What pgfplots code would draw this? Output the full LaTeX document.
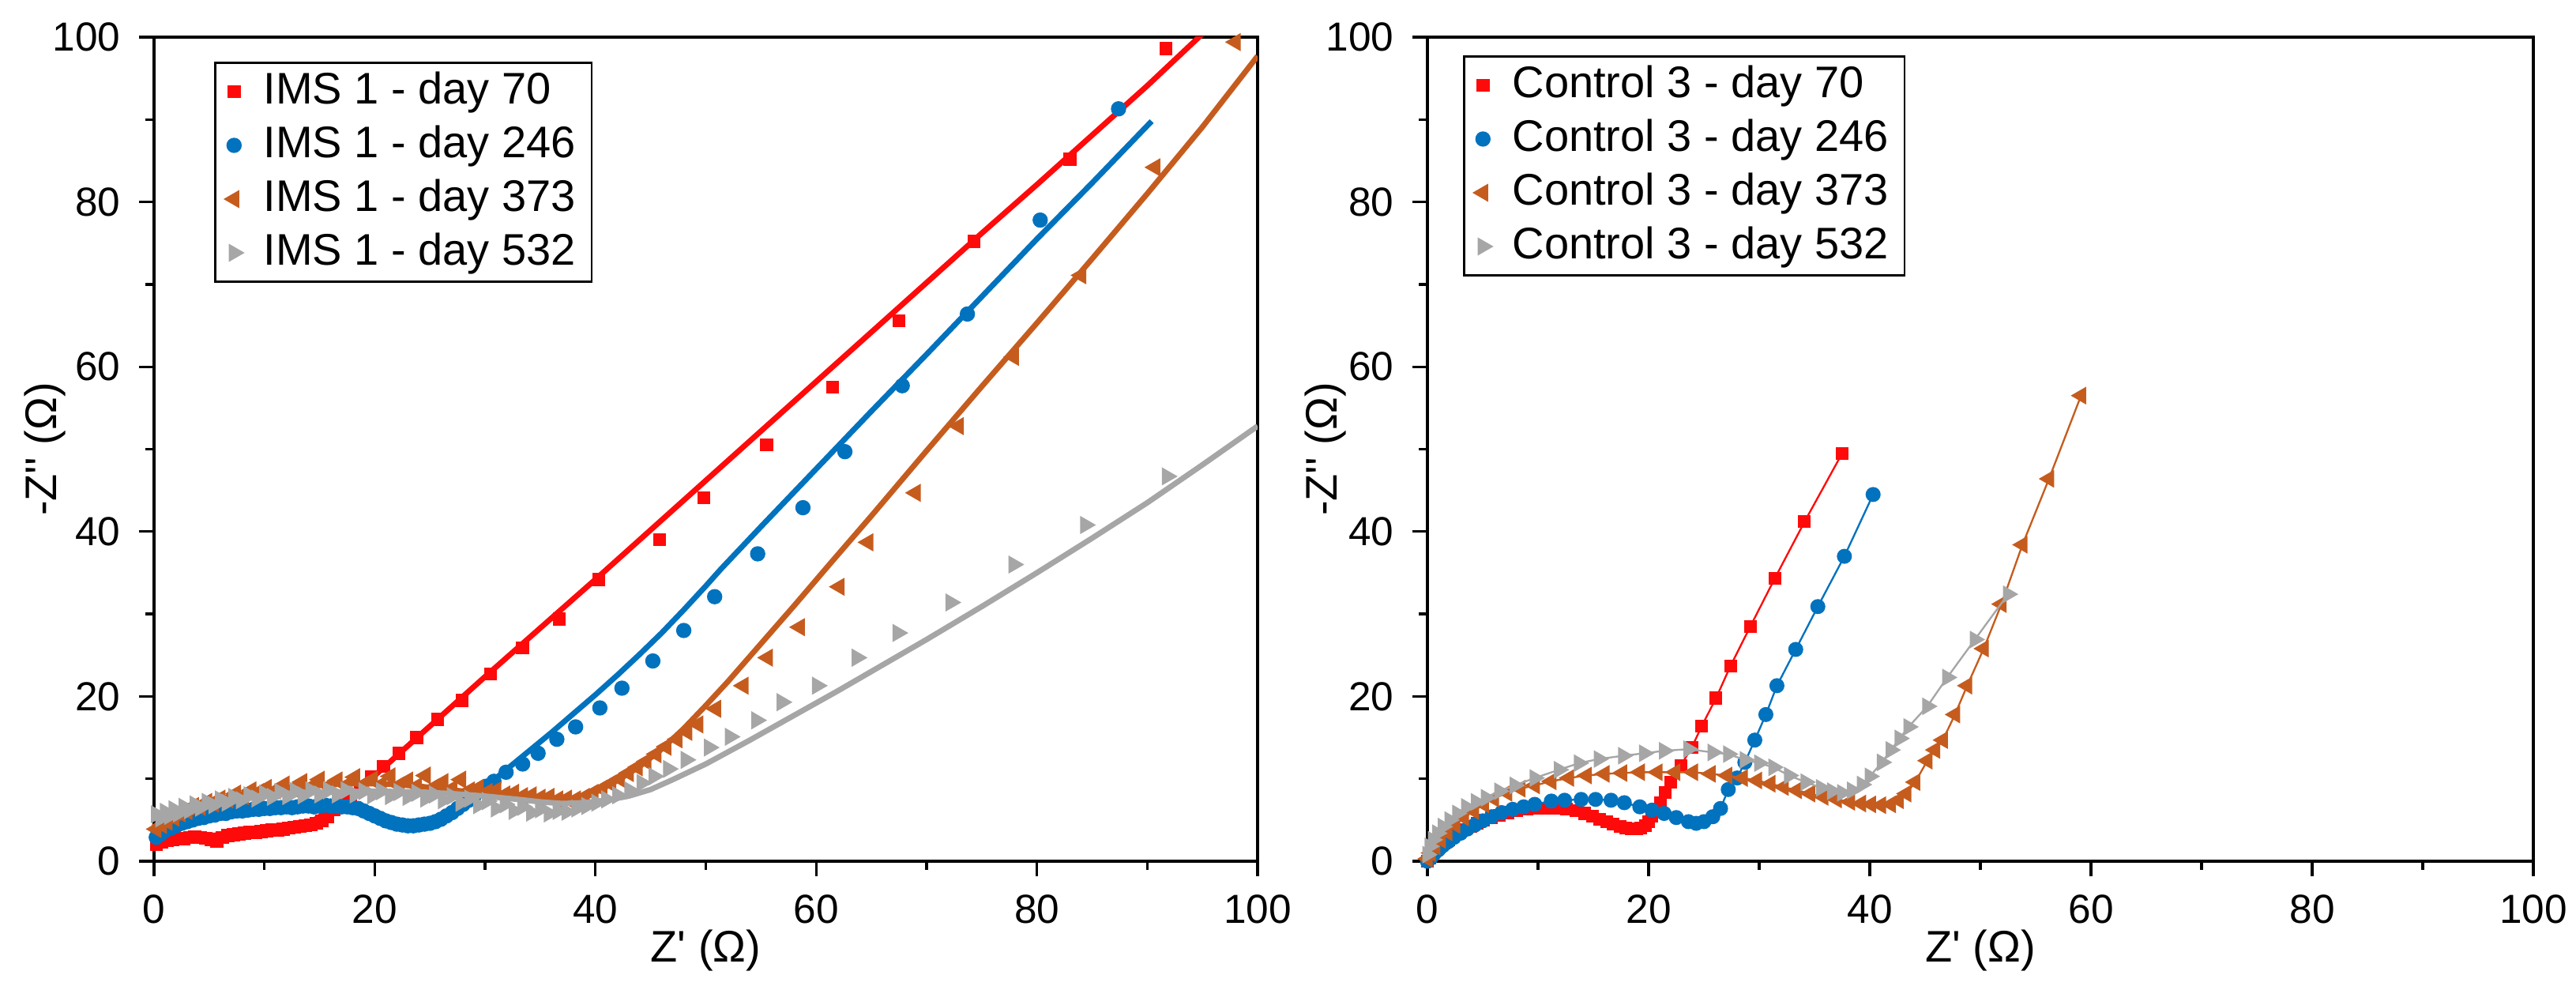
\documentclass[border=0pt]{standalone}
\usepackage{fontspec}
\setmainfont{Liberation Sans}[Ligatures=TeXOff]
\usepackage{pgfplots}
\pgfplotsset{compat=1.18}
\usepackage{pgfplotstable}
\definecolor{cR}{RGB}{255,10,10}
\definecolor{cB}{RGB}{0,114,190}
\definecolor{cO}{RGB}{197,92,30}
\definecolor{cG}{RGB}{166,166,166}

\pgfplotstableread{
x y
0.2 2.0
0.7 2.3
1.2 2.5
1.7 2.6
2.2 2.8
2.7 2.7
3.2 2.9
3.7 3.0
4.2 2.9
4.7 2.8
5.2 2.6
5.7 2.4
6.2 2.9
6.7 3.1
7.2 3.2
7.7 3.3
8.2 3.4
8.7 3.5
9.2 3.5
9.7 3.6
10.2 3.7
10.7 3.8
11.2 3.8
11.7 3.9
12.2 4.0
12.7 4.1
13.2 4.2
13.7 4.3
14.2 4.4
14.7 4.6
15.2 4.9
15.7 5.4
16.3 6.3
17.0 7.0
17.8 7.6
18.7 8.9
19.7 10.2
20.8 11.5
22.2 13.1
23.8 15.0
25.7 17.2
27.9 19.5
30.5 22.7
33.4 25.9
36.7 29.4
40.3 34.2
45.8 39.0
49.8 44.1
55.5 50.5
61.5 57.5
67.5 65.6
74.3 75.2
83.0 85.2
91.7 98.6
}\LR
\pgfplotstableread{
x y
0 2.6
2 2.8
4 3.0
6 3.2
8 3.5
10 3.8
12 4.1
13.5 4.5
14.5 5.0
15.5 5.8
16.5 6.7
17.5 7.6
18.5 8.7
20 10.4
25 16.4
30 22.4
35 28.3
40 34.2
45 40.2
50 46.2
55 52.2
60 58.2
65 64.2
70 70.2
75 76.2
80 82.1
85 88.1
90 94.1
95 100.4
}\LRf
\pgfplotstableread{
x y
0.2 2.9
0.6 3.3
1.0 3.7
1.5 4.0
2.0 4.3
2.5 4.6
3.0 4.8
3.5 5.0
4.0 5.2
4.5 5.3
5.0 5.5
5.5 5.6
6.0 5.8
6.5 5.8
7.0 6.0
7.5 6.1
8.0 6.1
8.5 6.2
9.0 6.3
9.5 6.3
10.0 6.4
10.5 6.4
11.0 6.5
11.5 6.5
12.0 6.6
12.5 6.5
13.0 6.6
13.5 6.7
14.0 6.7
14.5 6.6
15.0 6.7
15.5 6.8
16.0 6.7
16.5 6.7
17.0 6.6
17.5 6.6
18.0 6.5
18.5 6.4
19.0 6.1
19.5 5.8
20.0 5.5
20.5 5.2
21.0 4.9
21.5 4.7
22.0 4.5
22.5 4.4
23.0 4.3
23.5 4.3
24.0 4.4
24.5 4.5
25.0 4.6
25.5 4.8
26.0 5.1
26.5 5.5
27.0 5.9
27.5 6.4
28.0 6.9
28.5 7.4
29.0 7.9
29.5 8.5
30.1 9.1
30.8 9.7
31.9 10.8
33.4 11.8
34.8 13.1
36.5 14.8
38.2 16.3
40.4 18.6
42.4 21.0
45.2 24.3
48.0 28.0
50.8 32.1
54.7 37.3
58.8 42.9
62.6 49.7
67.8 57.7
73.7 66.4
80.3 77.8
87.4 91.3
}\LB
\pgfplotstableread{
x y
0 2.6
1 3.4
2 4.0
3.5 4.7
5 5.2
7.5 5.8
10 6.2
12.5 6.5
15 6.6
17 6.5
18.5 6.2
20 5.6
21.5 4.9
23 4.5
24 4.5
25 4.7
26 5.2
27 5.9
28 6.8
29 7.8
30 9.0
32 11.2
34 13.4
36 15.6
38 17.9
40 20.2
42 22.6
44 25.1
46 27.7
48 30.5
50 33.4
51.4 35.5
55 40.6
60 47.6
65 54.6
70 61.5
75 68.5
80 75.5
85 82.3
90.4 89.8
}\LBf
\pgfplotstableread{
x y
0.2 3.9
0.7 4.4
1.2 4.8
1.8 5.3
2.4 5.8
3.0 6.1
3.6 6.7
4.2 6.6
4.8 7.2
5.4 7.0
6.0 7.6
6.7 7.5
7.4 8.2
8.1 7.9
8.8 8.6
9.5 8.4
10.2 8.9
11.0 8.6
11.8 9.3
12.6 8.8
13.4 9.6
14.2 9.0
15.0 9.9
15.8 9.1
16.6 9.8
17.4 9.2
18.2 10.2
19.0 9.3
19.8 9.9
20.6 9.3
21.4 10.3
22.2 9.2
23.0 9.8
23.8 9.1
24.6 10.4
25.4 9.0
26.2 9.6
27.0 8.8
27.8 9.9
28.6 8.6
29.4 8.9
30.2 8.4
31.0 8.6
31.8 8.1
32.6 8.3
33.4 7.9
34.2 8.0
35.0 7.7
35.8 7.8
36.6 7.5
37.4 7.6
38.2 7.5
39.0 7.8
39.8 8.3
40.6 8.8
41.4 9.4
42.2 10.0
43.0 10.7
43.8 11.4
44.6 12.1
45.5 13.0
46.4 13.9
47.4 14.8
48.3 15.7
49.3 16.6
50.9 18.5
53.4 21.3
55.6 24.7
58.5 28.4
62.1 33.3
64.7 38.7
69.0 44.7
72.9 52.8
77.9 61.2
84.0 71.1
90.7 84.2
98.0 99.4
}\LO
\pgfplotstableread{
x y
0 3.9
2 5.1
4 6.2
6 7.1
8 7.8
10 8.4
12 8.8
14 9.1
16 9.3
18 9.4
20 9.4
22 9.3
24 9.1
26 8.8
28 8.5
30 8.2
32 7.9
34 7.6
36 7.4
37.5 7.4
38.5 7.6
39.5 8.0
40.5 8.7
42 9.8
44 11.5
46 13.6
48 16.1
50 18.9
52 21.8
55 26.4
58 31.0
61 35.7
65 41.9
70 49.8
75 57.6
80 65.3
85 73.1
90 81.0
95 89.1
100 97.7
}\LOf
\pgfplotstableread{
x y
0.2 5.7
0.6 5.2
1.0 6.0
1.4 5.5
1.8 6.3
2.2 5.8
2.7 6.6
3.2 6.2
3.7 6.9
4.2 6.5
4.8 7.2
5.4 6.8
6.0 7.5
6.6 7.1
7.2 7.8
7.9 7.4
8.6 8.0
9.3 7.6
10.0 8.2
10.7 7.8
11.4 8.4
12.1 7.9
12.8 8.5
13.5 8.0
14.2 8.6
15.0 8.1
15.8 8.6
16.6 8.1
17.4 8.6
18.2 8.1
19.0 8.5
19.8 8.0
20.6 8.5
21.4 7.9
22.2 8.4
23.0 7.8
23.8 8.3
24.6 7.6
25.4 8.1
26.2 7.4
27.0 7.9
27.8 7.1
28.6 7.6
29.4 6.8
30.2 7.3
31.0 6.4
31.8 6.9
32.6 6.1
33.4 6.6
34.2 5.9
35.0 6.3
35.8 5.8
36.6 6.1
37.4 6.0
38.3 6.4
39.2 6.7
40.1 7.1
41.0 7.5
42.0 8.0
43.1 8.6
44.2 9.5
45.3 10.3
46.6 11.2
48.2 12.3
50.3 13.8
52.2 15.1
54.6 17.1
56.9 19.3
60.1 21.3
63.7 24.7
67.4 27.7
72.2 31.4
77.9 36.0
84.4 40.8
91.8 46.7
}\LG
\pgfplotstableread{
x y
0 5.3
2 6.1
4 6.8
6 7.3
8 7.7
10 8.0
13 8.3
16 8.4
20 8.5
24 8.4
27 8.2
30 7.9
33 7.5
35 7.2
37 7.0
39 7.1
41 7.4
43 7.9
45 8.7
47 9.9
50 11.8
54 14.7
58 17.7
62 20.7
66 23.8
70 26.9
75 30.9
80 35.0
85 39.2
90 43.5
95 48.1
100 52.8
}\LGf
\pgfplotstableread{
x y
0.0 0.0
0.2 0.4
0.5 0.9
0.8 1.3
1.1 1.7
1.5 2.2
1.9 2.6
2.3 3.0
2.8 3.4
3.3 3.8
3.9 4.2
4.5 4.6
5.1 5.0
5.8 5.3
6.5 5.6
7.3 5.9
8.1 6.1
9.0 6.3
9.9 6.4
10.8 6.4
11.7 6.4
12.6 6.3
13.4 6.1
14.2 5.8
14.9 5.5
15.6 5.1
16.2 4.8
16.8 4.5
17.4 4.2
17.9 4.0
18.4 3.9
18.9 3.9
19.3 4.0
19.7 4.3
20.0 4.8
20.3 5.5
20.7 6.3
21.1 7.1
21.5 8.3
22.0 9.6
22.9 11.6
23.9 13.8
24.8 16.4
26.1 19.8
27.4 23.7
29.2 28.5
31.4 34.3
34.1 41.2
37.5 49.5
}\RR
\pgfplotstableread{
x y
0.0 0.0
0.3 0.4
0.6 0.9
1.0 1.4
1.4 1.9
1.9 2.4
2.4 2.9
3.0 3.4
3.6 3.9
4.3 4.4
5.0 4.9
5.8 5.4
6.7 5.9
7.7 6.3
8.7 6.6
9.7 6.9
11.2 7.3
12.4 7.4
13.9 7.5
15.2 7.5
16.6 7.4
17.8 7.1
19.2 6.6
20.3 6.2
21.4 5.8
22.5 5.3
23.6 4.8
24.3 4.6
25.0 4.8
25.8 5.4
26.5 6.4
27.2 8.7
28.0 10.1
28.7 12.0
29.6 14.7
30.6 17.8
31.6 21.3
33.3 25.7
35.3 30.9
37.7 37.0
40.3 44.5
}\RB
\pgfplotstableread{
x y
0.0 0.3
0.3 1.0
0.7 1.8
1.2 2.6
1.8 3.5
2.5 4.4
3.3 5.3
4.2 6.1
5.1 6.9
6.0 7.6
7.2 8.3
8.4 8.8
9.7 9.2
11.2 9.7
12.8 10.1
14.4 10.4
16.0 10.6
17.6 10.7
19.2 10.8
20.8 10.8
22.4 10.8
24.0 10.8
25.6 10.6
27.1 10.4
28.5 10.1
29.8 9.8
31.0 9.4
32.2 9.0
33.4 8.6
34.6 8.2
35.8 7.8
37.0 7.5
38.2 7.2
39.2 7.0
40.1 6.9
41.0 6.8
41.9 6.9
42.6 7.4
43.3 8.2
44.1 9.6
45.2 12.2
45.9 13.5
46.6 14.7
47.7 17.8
48.8 21.3
50.3 25.8
51.9 31.2
53.8 38.4
56.2 46.4
59.1 56.5
}\RO
\pgfplotstableread{
x y
0.0 0.8
0.2 1.8
0.5 2.6
0.9 3.4
1.4 4.2
2.0 5.0
2.7 5.8
3.5 6.6
4.4 7.2
5.3 7.7
6.5 8.5
7.9 9.2
9.7 10.1
11.9 11.1
13.7 11.9
15.5 12.4
17.7 12.8
19.6 13.1
21.4 13.4
23.6 13.6
25.8 13.2
27.2 13.0
28.7 12.3
30.0 11.9
31.3 11.4
32.7 10.4
34.2 9.6
35.6 8.9
36.6 8.5
37.5 8.3
38.4 8.6
39.3 9.3
40.0 10.3
41.1 12.0
41.9 13.5
42.7 14.9
43.5 16.3
45.2 18.8
47.0 22.3
49.5 26.9
52.5 32.4
}\RG

\pgfplotsset{
  mkleg/.style={only marks, legend image code/.code={\draw[mark repeat=2,mark phase=2,##1] plot coordinates {(0pt,0pt) (8pt,0pt) (16pt,0pt)};}},
  myaxis/.style={
    scale only axis, anchor=south west, height=156.45pt,
    xmin=0, xmax=100, ymin=0, ymax=100,
    xtick={0,20,40,60,80,100}, ytick={0,20,40,60,80,100},
    minor xtick={10,30,50,70,90}, minor ytick={10,30,50,70,90},
    tick align=outside, tick pos=left,
    major tick length=2.85pt, minor tick length=1.65pt,
    axis line style={line width=0.55pt},
    every tick/.style={black, line width=0.5pt},
    tick label style={font=\fontsize{7.7}{8}\selectfont},
    /pgf/number format/assume math mode=true,
    label style={font=\fontsize{8.4}{10}\selectfont},
    xlabel={Z' (Ω)}, ylabel={-Z'' (Ω)},
    xlabel style={at={(axis description cs:0.5,-0.1087)}, anchor=center},
    clip mode=individual,
    legend cell align=left,
    legend style={draw=black, line width=0.4pt, inner xsep=2pt, inner ysep=1.6pt,
      row sep=2.4pt, column sep=3pt, anchor=north west,
      font=\fontsize{8.4}{10}\selectfont,
      nodes={inner xsep=1pt, inner ysep=0pt, text height=6.2pt, text depth=1.6pt}},
  },
  mkR/.style={mark=square*, mark size=1.03pt, mark options={solid}},
  mkB/.style={mark=*, mark size=1.25pt, mark options={solid}},
  mkO/.style={mark=triangle*, mark size=1.6pt, mark options={solid, rotate=90}},
  mkG/.style={mark=triangle*, mark size=1.6pt, mark options={solid, rotate=-90}},
}

\begin{document}
\begin{tikzpicture}
\path[use as bounding box] (0,0) rectangle (489.15pt,187.8pt);
\begin{axis}[myaxis, at={(29.25pt,24.3pt)}, width=209.55pt,
  ylabel style={at={(axis description cs:-0.0988,0.5)}, anchor=center},
  legend style={at={(axis description cs:0.0544,0.9703)}}]
\addlegendimage{mkleg, mkR, cR}
\addlegendentry{IMS 1 - day 70}
\addlegendimage{mkleg, mkB, cB}
\addlegendentry{IMS 1 - day 246}
\addlegendimage{mkleg, mkO, cO}
\addlegendentry{IMS 1 - day 373}
\addlegendimage{mkleg, mkG, cG}
\addlegendentry{IMS 1 - day 532}
\addplot[forget plot, only marks, mkR, cR] table {\LR};
\addplot[forget plot, no marks, cR, line width=1.05pt] table {\LRf};
\addplot[forget plot, only marks, mkB, cB] table {\LB};
\addplot[forget plot, no marks, cB, line width=1.05pt] table {\LBf};
\addplot[forget plot, only marks, mkO, cO] table {\LO};
\addplot[forget plot, no marks, cO, line width=1.05pt] table {\LOf};
\addplot[forget plot, only marks, mkG, cG] table {\LG};
\addplot[forget plot, no marks, cG, line width=1.05pt] table {\LGf};
\end{axis}
\begin{axis}[myaxis, at={(271.05pt,24.3pt)}, width=210pt,
  ylabel style={at={(axis description cs:-0.0924,0.5)}, anchor=center},
  legend style={at={(axis description cs:0.0321,0.978)}}]
\addlegendimage{mkleg, mkR, cR}
\addlegendentry{Control 3 - day 70}
\addlegendimage{mkleg, mkB, cB}
\addlegendentry{Control 3 - day 246}
\addlegendimage{mkleg, mkO, cO}
\addlegendentry{Control 3 - day 373}
\addlegendimage{mkleg, mkG, cG}
\addlegendentry{Control 3 - day 532}
\addplot[forget plot, mkR, cR, line width=0.35pt] table {\RR};
\addplot[forget plot, mkB, cB, line width=0.35pt] table {\RB};
\addplot[forget plot, mkO, cO, line width=0.35pt] table {\RO};
\addplot[forget plot, mkG, cG, line width=0.35pt] table {\RG};
\end{axis}
\end{tikzpicture}
\end{document}
